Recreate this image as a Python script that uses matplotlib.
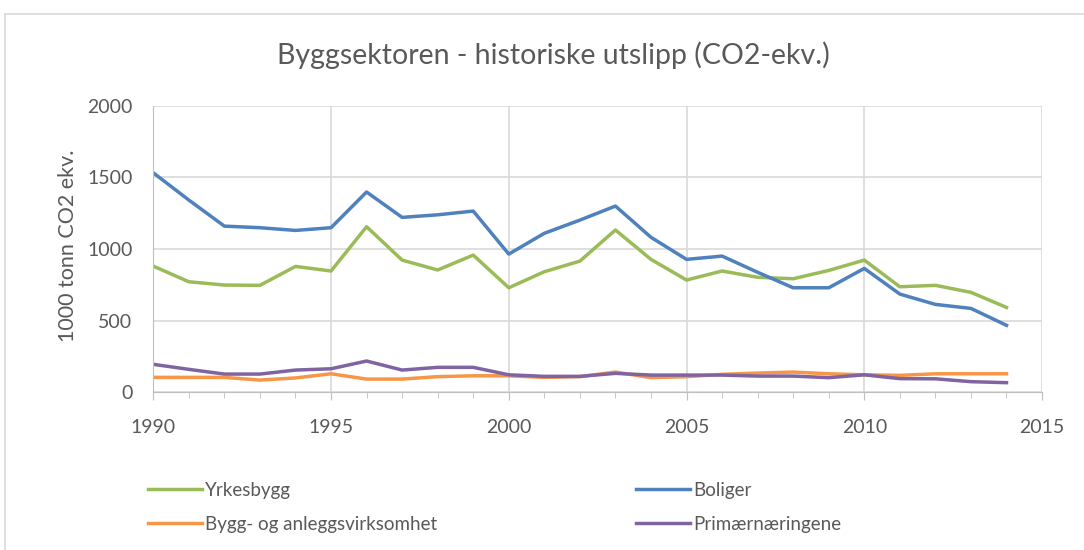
import matplotlib.pyplot as plt
from matplotlib.patches import Rectangle

plt.rcParams['font.family'] = ['Lato', 'DejaVu Sans']

years = list(range(1990, 2015))

yrkesbygg = [881, 772, 749, 747, 879, 847, 1156, 923, 854, 958,
             730, 842, 916, 1133, 928, 784, 847, 803, 793, 851,
             923, 737, 747, 698, 593]
boliger = [1532, 1342, 1160, 1149, 1130, 1149, 1398, 1221, 1239, 1265,
           965, 1110, 1202, 1300, 1082, 928, 951, 838, 730, 730,
           865, 686, 614, 586, 468]
bygg_anlegg = [105, 105, 105, 86, 101, 130, 93, 93, 110, 116,
               116, 105, 110, 142, 103, 110, 126, 135, 142, 130,
               123, 119, 130, 130, 130]
primaer = [196, 161, 128, 128, 156, 165, 219, 156, 175, 175,
           123, 112, 112, 133, 121, 121, 121, 114, 114, 103,
           123, 96, 95, 75, 68]

labels = ["Yrkesbygg", "Boliger", "Bygg- og anleggsvirksomhet", "Primærnæringene"]
colors = ["#9BBB59", "#4F81BD", "#F79646", "#8064A2"]
txt = "#595959"

fig = plt.figure(figsize=(10.84, 5.5), dpi=100)
ax = fig.add_axes([0.1414, 0.2865, 0.8199, 0.5213])

# chart frame (cropped on the right and bottom)
fig.patches.append(Rectangle((5 / 1084, -0.05), 1.1, 1 - 14 / 550 + 0.05,
                             transform=fig.transFigure, fill=False,
                             edgecolor="#d9d9d9", lw=1.2))

lines = []
for data, lab, col in zip([yrkesbygg, boliger, bygg_anlegg, primaer], labels, colors):
    ln, = ax.plot(years, data, color=col, lw=2.5, label=lab)
    lines.append(ln)

ax.set_xlim(1990, 2015)
ax.set_ylim(0, 2000)
ax.set_xticks(range(1990, 2016, 5))
ax.set_xticks(range(1990, 2016), minor=True)
ax.set_yticks(range(0, 2001, 500))
ax.grid(True, color="#d9d9d9", lw=1.2)
ax.set_axisbelow(True)
for s in ["top", "right"]:
    ax.spines[s].set_visible(False)
ax.spines["left"].set_color("#bfbfbf")
ax.spines["bottom"].set_color("#bfbfbf")
ax.tick_params(axis="x", which="both", direction="out", length=4.5, color="#bfbfbf",
               labelsize=14, labelcolor=txt, pad=14)
ax.tick_params(axis="x", which="major", length=6, pad=13)
ax.tick_params(axis="y", length=0, labelsize=14, labelcolor=txt, pad=15)

fig.text(68 / 1084, 1 - 246 / 550, "1000 tonn CO2 ekv.", rotation=90,
         ha="center", va="center", fontsize=15.5, color=txt)

fig.text(553 / 1084, 0.9, "Byggsektoren - historiske utslipp (CO2-ekv.)", ha="center",
         va="center", fontsize=20.5, color=txt)

leg_kw = dict(loc="upper left", frameon=False, fontsize=13.5, labelcolor=txt,
              handlelength=2.9, handletextpad=0.15, labelspacing=0.92,
              borderaxespad=0, borderpad=0)
fig.legend([lines[0], lines[2]], [labels[0], labels[2]],
           bbox_to_anchor=(148 / 1084, 0.124), **leg_kw)
fig.legend([lines[1], lines[3]], [labels[1], labels[3]],
           bbox_to_anchor=(636 / 1084, 0.124), **leg_kw)

fig.savefig("out.png", dpi=100)
